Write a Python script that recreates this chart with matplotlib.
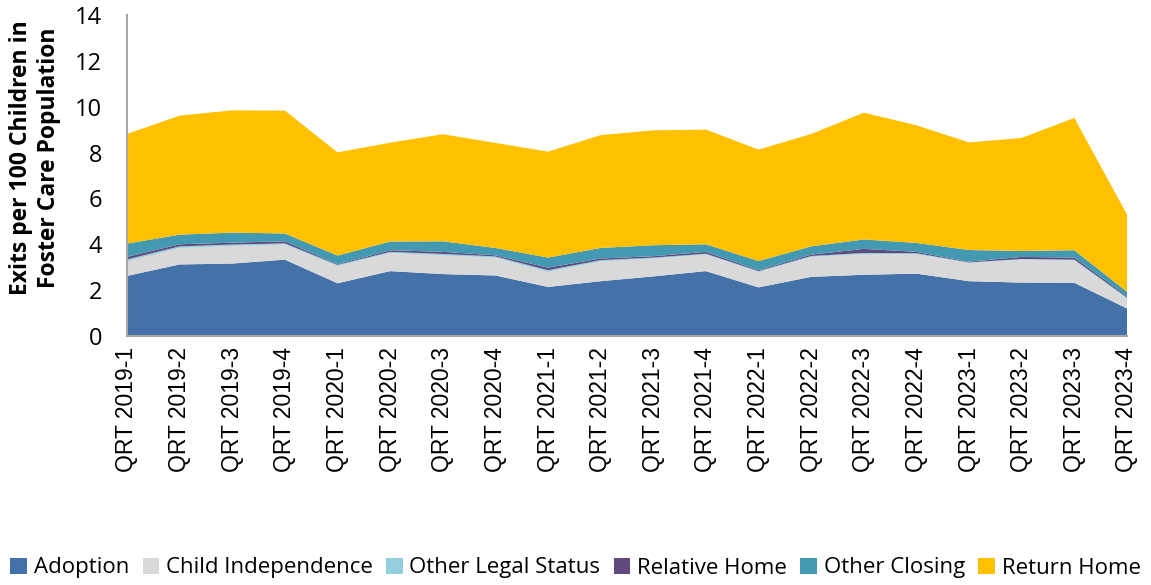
import matplotlib
matplotlib.use("Agg")
import matplotlib.pyplot as plt
from matplotlib.patches import Patch

# Trimestres
trimestres = ["QRT 2019-1", "QRT 2019-2", "QRT 2019-3", "QRT 2019-4",
              "QRT 2020-1", "QRT 2020-2", "QRT 2020-3", "QRT 2020-4",
              "QRT 2021-1", "QRT 2021-2", "QRT 2021-3", "QRT 2021-4",
              "QRT 2022-1", "QRT 2022-2", "QRT 2022-3", "QRT 2022-4",
              "QRT 2023-1", "QRT 2023-2", "QRT 2023-3", "QRT 2023-4"]

# Saídas por 100 crianças
adoption = [2.62, 3.12, 3.16, 3.33, 2.30, 2.83, 2.70, 2.64, 2.14, 2.39,
            2.60, 2.83, 2.12, 2.58, 2.67, 2.72, 2.39, 2.33, 2.32, 1.20]
child_independence = [0.64, 0.72, 0.77, 0.66, 0.76, 0.79, 0.82, 0.78, 0.66, 0.87,
                      0.78, 0.72, 0.68, 0.87, 0.90, 0.85, 0.80, 1.00, 0.98, 0.42]
other_legal_status = [0.08, 0.07, 0.06, 0.05, 0.04, 0.05, 0.06, 0.05, 0.07, 0.05,
                      0.04, 0.04, 0.03, 0.04, 0.05, 0.04, 0.02, 0.03, 0.03, 0.06]
relative_home = [0.11, 0.09, 0.08, 0.09, 0.03, 0.07, 0.09, 0.05, 0.11, 0.07,
                 0.06, 0.08, 0.04, 0.06, 0.18, 0.06, 0.03, 0.09, 0.09, 0.06]
other_closing = [0.58, 0.42, 0.44, 0.34, 0.38, 0.38, 0.46, 0.32, 0.44, 0.46,
                 0.48, 0.33, 0.40, 0.36, 0.41, 0.39, 0.51, 0.26, 0.32, 0.19]
return_home = [4.78, 5.19, 5.33, 5.36, 4.50, 4.31, 4.67, 4.58, 4.62, 4.92,
               5.01, 5.00, 4.86, 4.90, 5.53, 5.13, 4.69, 4.93, 5.77, 3.37]

nomes = ["Adoption", "Child Independence", "Other Legal Status",
         "Relative Home", "Other Closing", "Return Home"]
cores = ["#4472A8", "#D9D9D9", "#95CEDD", "#5F4A80", "#4399B1", "#FFC000"]

fonte = "Open Sans"

fig = plt.figure(figsize=(11.51, 5.85), dpi=100)
ax = fig.add_axes([127 / 1151, 1 - 336 / 585, 1000 / 1151, 321 / 585])

x = list(range(len(trimestres)))
ax.stackplot(x, adoption, child_independence, other_legal_status,
             relative_home, other_closing, return_home,
             colors=cores, linewidth=0)

ax.set_xlim(0, len(trimestres) - 1)
ax.set_ylim(0, 14)
ax.set_yticks(range(0, 15, 2))
ax.set_xticks(x)
ax.set_xticklabels(trimestres, rotation=90, fontsize=16.5, family="Liberation Sans")
for lbl in ax.get_yticklabels():
    lbl.set_fontsize(17)
    lbl.set_family(fonte)
ax.tick_params(axis="x", length=0, pad=8)
ax.tick_params(axis="y", length=0, pad=18)

for s in ["top", "right"]:
    ax.spines[s].set_visible(False)
for s in ["left", "bottom"]:
    ax.spines[s].set_color("#A6A6A6")
    ax.spines[s].set_linewidth(1.5)

fig.text(35 / 1151, 1 - 158 / 585,
         "Exits per 100 Children in\nFoster Care Population",
         rotation=90, ha="center", va="center", multialignment="center",
         fontsize=16.5, fontweight="bold", family=fonte, linespacing=1.2)

handles = [Patch(facecolor=c, edgecolor="none", label=n) for c, n in zip(cores, nomes)]
fig.legend(handles=handles, loc="center", bbox_to_anchor=(0.5, 1 - 568 / 585),
           ncol=6, frameon=False, prop={"family": fonte, "size": 16},
           handlelength=0.75, handleheight=0.75, handletextpad=0.3,
           columnspacing=0.6, borderaxespad=0)

plt.savefig("out.png", dpi=100)
